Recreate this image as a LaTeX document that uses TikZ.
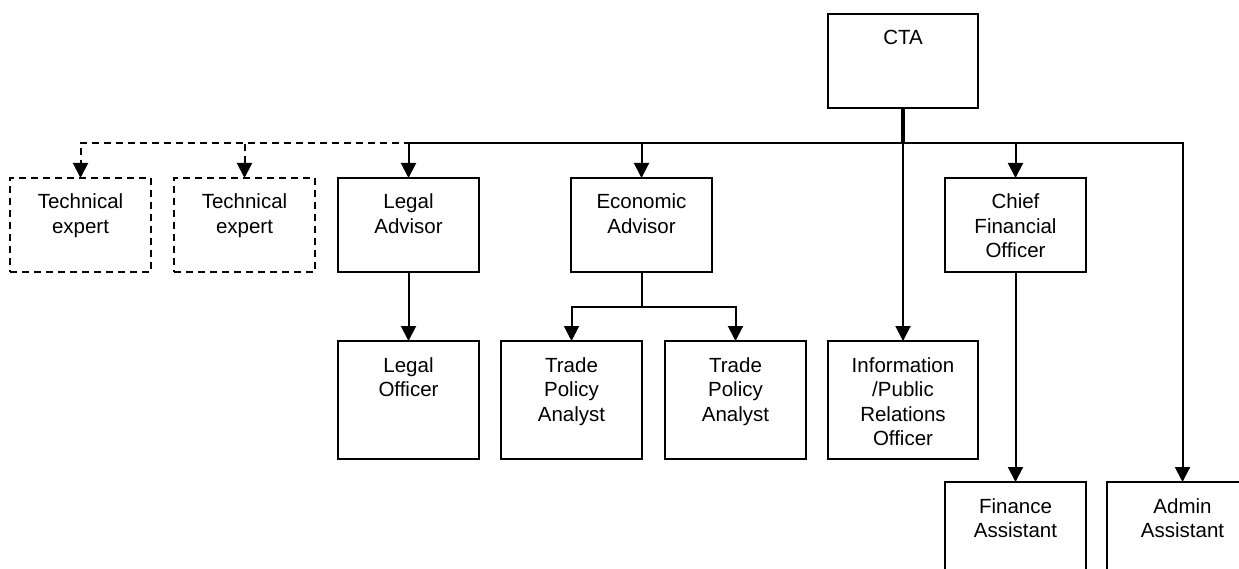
\documentclass[tikz,border=0pt]{standalone}
\usepackage{fontspec}
\setmainfont{Liberation Sans}
\usepackage{tikz}
\usetikzlibrary{arrows.meta, positioning, calc}
\tikzset{
  post/.style={draw=black,line width=2pt,inner sep=0pt,outer sep=0pt,font=\fontsize{20.5pt}{24.5pt}\selectfont},
  post_d/.style={post,dash pattern=on 7pt off 5pt},
  link/.style={line width=2pt,black},
  relation/.style={link,-{Triangle[length=15pt,width=15pt]}},
  relation_d/.style={relation,dash pattern=on 7pt off 5pt},
  trunk/.style={line width=3.5pt,black},
}
% text sits at the top of each box
\newcommand{\cell}[3]{\parbox[t][#2][t]{#1}{\centering\rule{0pt}{31pt}#3}}

\begin{document}
\begin{tikzpicture}[x=1pt,y=1pt]
	    \useasboundingbox (0,0) rectangle (1239,-569);
	    \node[post,anchor=north] (cta) at (903,-14) {\cell{150pt}{94pt}{CTA}};
	    \node[post_d,anchor=north west] (tech1) at (10,-178) {\cell{141pt}{94pt}{Technical\\expert}};
	    \node[post_d,right=23pt of tech1] (tech2) {\cell{141pt}{94pt}{Technical\\expert}};
	    \node[post,right=23pt of tech2] (legal) {\cell{141pt}{94pt}{Legal\\Advisor}};
	    \node[post,right=92pt of legal] (econ) {\cell{141pt}{94pt}{Economic\\Advisor}};
	    \node[post,right=233pt of econ] (cfo) {\cell{141pt}{94pt}{Chief\\Financial\\Officer}};
	    \node[post,below=69pt of legal] (legaloff) {\cell{141pt}{118pt}{Legal\\Officer}};
	    \node[post,right=22pt of legaloff] (trade1) {\cell{141pt}{118pt}{Trade\\Policy\\Analyst}};
	    \node[post,right=23pt of trade1] (trade2) {\cell{141pt}{118pt}{Trade\\Policy\\Analyst}};
	    \node[post,right=22pt of trade2] (info) {\cell{150pt}{118pt}{Information\\/Public\\Relations\\Officer}};
	    \node[post,below=210pt of cfo] (finance) {\cell{141pt}{118pt}{Finance\\Assistant}};
	    \node[post,right=21pt of finance] (admin) {\cell{151pt}{118pt}{Admin\\Assistant}};
	    \coordinate[below=35pt of cta.south] (bus);
	    \coordinate[below=35pt of econ.south] (split);
	    \draw[relation_d] (bus) -| (tech1.north);
	    \draw[relation_d] (bus) -| (tech2.north);
	    \draw[relation] (bus) -| (legal.north);
	    \draw[relation] (bus) -| (econ.north);
	    \draw[relation] (bus) -| (cfo.north);
	    \draw[relation] (bus) -| (admin.north);
	    \draw[relation] (bus) -- (info.north);
	    \draw[trunk] (cta.south) -- (bus);
	    \draw[relation] (legal) -- (legaloff);
	    \draw[link] (econ) -- (split);
	    \draw[relation] (split) -| (trade1.north);
	    \draw[relation] (split) -| (trade2.north);
	    \draw[relation] (cfo) -- (finance);
	\end{tikzpicture}
\end{document}
